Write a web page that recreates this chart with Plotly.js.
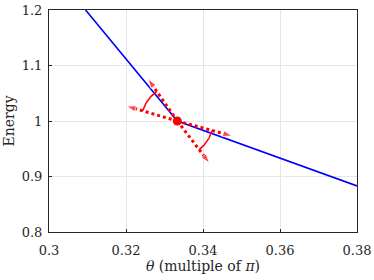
<!DOCTYPE html>
<html><head><meta charset="utf-8">
<script src="https://cdn.plot.ly/plotly-3.0.1.min.js"></script>
<style>body{margin:0;background:#fff}#c{width:374px;height:280px}</style>
</head><body><div id="c"></div>
<script>
// Blue energy curve
const curveX = [0.3095, 0.33333, 0.38];
const curveY = [1.2, 1.0, 0.883];
// Kink point
const centerX = 0.33333;
const centerY = 1.0;
// Arrow tips (up-left, left, right-down, down-right)
const arrowTipX = [0.3257, 0.3201, 0.3476, 0.3417];
const arrowTipY = [1.076, 1.027, 0.973, 0.924];
// Pairs of arrows with angle arcs between them
const arcPairs = [[0, 1], [2, 3]];
const xTicks = [0.3, 0.32, 0.34, 0.36, 0.38];
const yTicks = [0.8, 0.9, 1.0, 1.1, 1.2];

const W = 374, H = 280, M = {l: 49, r: 17, t: 10, b: 48};
const xR = [0.3, 0.38], yR = [0.8, 1.2];
const pxX = (W - M.l - M.r) / (xR[1] - xR[0]);
const pxY = (H - M.t - M.b) / (yR[1] - yR[0]);
const arcR = 36;

const traces = [];
traces.push({x: curveX, y: curveY, mode: 'lines', line: {color: '#0000ff', width: 1.6}, hoverinfo: 'skip'});
for (let i = 0; i < arrowTipX.length; i++) {
  traces.push({
    x: [centerX, arrowTipX[i]], y: [centerY, arrowTipY[i]],
    mode: 'lines+markers',
    line: {color: '#ff0000', width: 3, dash: 'dot'},
    marker: {symbol: 'arrow', size: [0, 10], angleref: 'previous', color: '#ff0000'},
    hoverinfo: 'skip'
  });
}
arcPairs.forEach(([i, j]) => {
  let a1 = Math.atan2((arrowTipY[i] - centerY) * pxY, (arrowTipX[i] - centerX) * pxX);
  let a2 = Math.atan2((arrowTipY[j] - centerY) * pxY, (arrowTipX[j] - centerX) * pxX);
  let d = a2 - a1;
  while (d > Math.PI) d -= 2 * Math.PI;
  while (d < -Math.PI) d += 2 * Math.PI;
  const ax = [], ay = [];
  for (let k = 0; k <= 24; k++) {
    const a = a1 + d * k / 24;
    ax.push(centerX + arcR * Math.cos(a) / pxX);
    ay.push(centerY + arcR * Math.sin(a) / pxY);
  }
  traces.push({x: ax, y: ay, mode: 'lines', line: {color: '#ff0000', width: 1.5}, hoverinfo: 'skip'});
});
traces.push({x: [centerX], y: [centerY], mode: 'markers', marker: {color: '#ff0000', size: 9}, hoverinfo: 'skip'});

const fam = 'DejaVu Serif, Liberation Serif, serif';
const font = {family: fam, color: '#262626', size: 13};
const axisCommon = {
  showline: true, mirror: true, linecolor: '#262626', linewidth: 1,
  ticks: 'inside', ticklen: 3, tickcolor: '#262626',
  showgrid: true, gridcolor: '#e6e6e6', gridwidth: 1, zeroline: false,
  tickfont: font
};
const layout = {
  width: W, height: H, margin: M, showlegend: false,
  paper_bgcolor: '#fff', plot_bgcolor: '#fff', font: font,
  xaxis: Object.assign({}, axisCommon, {range: xR, tickvals: xTicks, ticktext: xTicks.map(String),
    ticklabelstandoff: 6,
    title: {text: '<i>θ</i> (multiple of <i>π</i>)', font: {family: fam, size: 14, color: '#262626'}, standoff: 4}}),
  yaxis: Object.assign({}, axisCommon, {range: yR, tickvals: yTicks, ticktext: yTicks.map(String),
    ticklabelstandoff: 3,
    title: {text: 'Energy', font: {family: fam, size: 14, color: '#262626'}, standoff: 3}})
};
Plotly.newPlot('c', traces, layout, {displayModeBar: false, staticPlot: true});
</script></body></html>
